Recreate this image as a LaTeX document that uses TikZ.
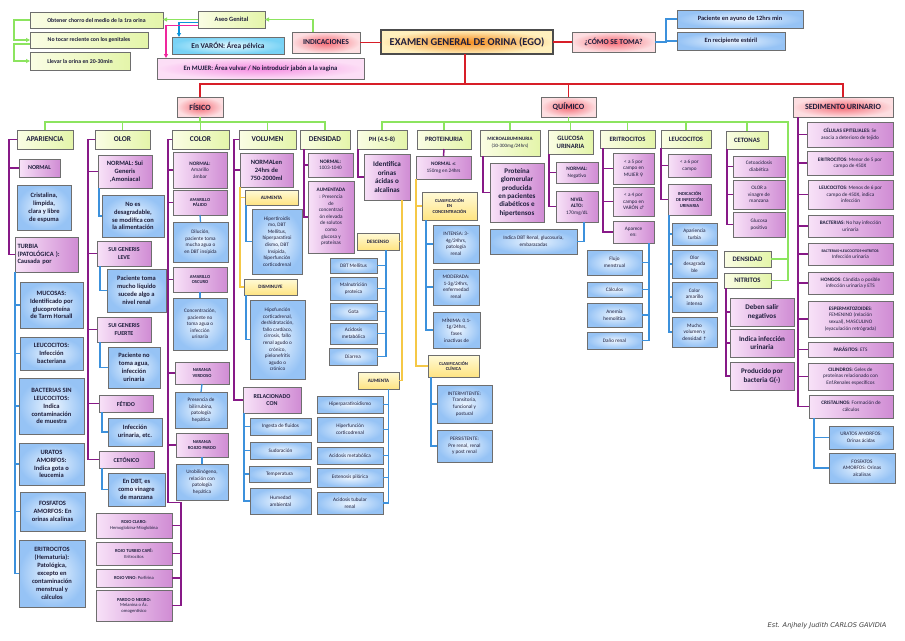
\documentclass[tikz,border=0pt]{standalone}
\usepackage{fontspec}
\setmainfont{Carlito}
\newfontfamily\symfont{DejaVu Sans}
\newfontfamily\sigfont{DejaVu Sans}
\usetikzlibrary{arrows.meta}
\definecolor{cred}{RGB}{215,30,40}
\definecolor{cgreen}{RGB}{140,228,95}
\definecolor{cpurp}{RGB}{135,25,135}
\definecolor{cblue}{RGB}{60,145,220}
\definecolor{cyel}{RGB}{245,200,70}
\definecolor{cbord}{RGB}{110,110,110}
\definecolor{ctext}{RGB}{30,30,60}
\definecolor{pL}{RGB}{248,226,248}
\definecolor{pR}{RGB}{208,140,212}
\definecolor{bI}{RGB}{236,245,255}
\definecolor{bO}{RGB}{150,195,245}
\definecolor{gL}{RGB}{250,253,228}
\definecolor{gR}{RGB}{228,245,170}
\definecolor{yT}{RGB}{255,250,215}
\definecolor{yB}{RGB}{255,228,130}
\definecolor{rI}{RGB}{245,105,115}
\definecolor{rO}{RGB}{253,222,225}
\definecolor{oI}{RGB}{245,140,30}
\definecolor{oO}{RGB}{255,240,190}
\definecolor{cI}{RGB}{230,250,255}
\definecolor{cO}{RGB}{120,210,245}
\definecolor{mI}{RGB}{245,140,225}
\definecolor{mO}{RGB}{252,222,246}
\newcommand\mybox[7]{%
  \pgfmathsetmacro\bxc{(#3+#5)/2}%
  \pgfmathsetmacro\byc{(#4+#6)/2}%
  \pgfmathsetmacro\bww{#5-#3}%
  \pgfmathsetmacro\bhh{#6-#4}%
  \node[#1, minimum width=\bww pt, minimum height=\bhh pt] (#2) at (\bxc,\byc) {#7};}
\tikzset{
 base/.style={draw=cbord, line width=0.9pt, align=center, inner sep=1pt, outer sep=0pt, text=ctext},
 pbox/.style={base, left color=pL, right color=pR, font=\fontsize{5.2}{6.6}\selectfont},
 bbox/.style={base, inner color=bI, outer color=bO, font=\fontsize{5.2}{6.6}\selectfont},
 gbox/.style={base, left color=gL, right color=gR, font=\fontsize{5.8}{7}\selectfont\bfseries},
 hbox/.style={base, left color=gL, right color=gR, font=\fontsize{7.4}{8.5}\selectfont\bfseries},
 ybox/.style={base, top color=yT, bottom color=yB, font=\fontsize{5}{6}\selectfont\bfseries},
 rbox/.style={base, inner color=rI, outer color=rO, font=\fontsize{8}{9}\selectfont\bfseries},
 tbox/.style={base, draw=black!70, line width=2pt, inner color=oI, outer color=oO, font=\fontsize{10.5}{12}\selectfont\bfseries},
 cbox/.style={base, inner color=cI, outer color=cO, font=\fontsize{7.4}{8.5}\selectfont\bfseries},
 mbox/.style={base, inner color=mI, outer color=mO, font=\fontsize{6.7}{8}\selectfont\bfseries},
 fa/.style={font=\fontsize{4.6}{5.6}\selectfont},
 fb/.style={font=\fontsize{5.2}{6.6}\selectfont},
 fc/.style={font=\fontsize{6}{7.2}\selectfont},
 fd/.style={font=\fontsize{6.5}{7.9}\selectfont\bfseries},
 fe/.style={font=\fontsize{7.1}{8.4}\selectfont\bfseries},
 redl/.style={draw=cred, line width=1.6pt},
 greenl/.style={draw=cgreen, line width=1.6pt},
 purpl/.style={draw=cpurp, line width=1.5pt},
 bluel/.style={draw=cblue, line width=1.3pt},
 yell/.style={draw=cyel, line width=1.3pt},
 cyanl/.style={draw=cyan!80!blue, line width=1.3pt},
 magl/.style={draw=magenta!85, line width=1.3pt},
 tip/.style={-{Triangle[length=4pt,width=4pt]}},
}
\begin{document}
\begin{tikzpicture}[x=1pt,y=-1pt]
\fill[white] (0,0) rectangle (905,640);
\useasboundingbox (0,0) rectangle (905,640);
% ---------- top ----------
\mybox{gbox}{obt}{30}{12}{163}{28}{Obtener chorro del medio de la 1ra orina}
\mybox{gbox}{notoc}{30}{32}{148}{48}{No tocar reciente con los genitales}
\mybox{gbox}{llev}{30}{52}{130}{70}{Llevar la orina en 20-30min}
\mybox{gbox,font=\fontsize{6.4}{7}\selectfont\bfseries}{aseo}{198}{11}{265}{28}{Aseo Genital}
\mybox{cbox}{varon}{172}{37}{284}{54}{En VARÓN: Área pélvica}
\mybox{mbox}{mujer}{157}{58}{364}{79}{En MUJER: Área vulvar / No introducir jabón a la vagina}
\mybox{rbox,font=\fontsize{7.6}{9}\selectfont\bfseries}{indic}{292}{32}{360}{53}{INDICACIONES}
\mybox{tbox}{ego}{381}{30}{553}{54}{EXAMEN GENERAL DE ORINA (EGO)}
\mybox{rbox,font=\fontsize{7.6}{9}\selectfont\bfseries}{como}{572}{32}{655}{52}{¿CÓMO SE TOMA?}
\mybox{bbox,font=\fontsize{6.4}{7.5}\selectfont\bfseries}{ayuno}{677}{10}{803}{28}{Paciente en ayuno de 12hrs min}
\mybox{bbox,font=\fontsize{6.4}{7.5}\selectfont\bfseries}{recip}{677}{32}{785}{50}{En recipiente estéril}
\draw[redl] (indic.east) -- (indic.east -| ego.west);
\draw[redl] (ego.east) -- (ego.east -| como.west);
\draw[bluel] (como.east) -- ++(11,0) coordinate (cf) |- (ayuno.west);
\draw[bluel] (cf) |- (recip.west);
\draw[greenl,tip] ([xshift=-13pt]indic.north) |- (aseo.east);
\draw[greenl,tip] (aseo.west) -- (aseo.west -| obt.east);
\draw[cyanl,tip] ([yshift=-3pt]aseo.west) -| ([xshift=7pt]varon.north west);
\draw[magl,tip] ([yshift=-6pt]aseo.west) -| ([xshift=9pt]mujer.north west);
\draw[greenl,tip] (obt.west) -- ++(-16,0) |- (notoc.west);
\draw[greenl,tip] ([yshift=-4pt]notoc.west) -- ++(-16,0) |- (llev.west);
% ---------- main ----------
\mybox{rbox}{fis}{177}{97}{223}{117}{FÍSICO}
\mybox{rbox}{quim}{541}{97}{596}{117}{QUÍMICO}
\mybox{rbox}{sed}{793}{97}{893}{117}{SEDIMENTO URINARIO}
\draw[redl] ([xshift=-2pt]ego.south) -- ++(0,30) coordinate (b0);
\draw[redl] (fis.north) |- (b0) -| (sed.north);
\draw[redl] (quim.north) -- (quim.north |- b0);
% headers
\mybox{hbox}{apar}{17}{130}{73}{149}{APARIENCIA}
\mybox{hbox}{olor}{95}{130}{150}{149}{OLOR}
\mybox{hbox}{color}{172}{130}{229}{149}{COLOR}
\mybox{hbox}{vol}{239}{130}{296}{149}{VOLUMEN}
\mybox{hbox}{dens}{300}{130}{350}{149}{DENSIDAD}
\mybox{hbox,font=\fontsize{6.4}{7}\selectfont\bfseries}{ph}{357}{130}{407}{149}{PH (4.5-8)}
\mybox{hbox,font=\fontsize{6.6}{7}\selectfont\bfseries}{prot}{417}{130}{471}{149}{PROTEINURIA}
\mybox{hbox,font=\fontsize{5}{6.5}\selectfont}{micro}{480}{130}{540}{156}{\textbf{MICROALBUMINURIA}\\(30-300mg/24hrs)}
\mybox{hbox,font=\fontsize{6.6}{7.8}\selectfont\bfseries}{gluc}{548}{130}{593}{154}{GLUCOSA\\URINARIA}
\mybox{hbox,font=\fontsize{6.6}{7.5}\selectfont\bfseries}{erit}{600}{130}{655}{148}{ERITROCITOS}
\mybox{hbox,font=\fontsize{6.6}{7.5}\selectfont\bfseries}{leuc}{661}{130}{711}{148}{LEUCOCITOS}
\mybox{hbox,font=\fontsize{6.6}{7.5}\selectfont\bfseries}{ceto}{726}{131}{768}{149}{CETONAS}
\mybox{hbox,font=\fontsize{6.8}{7.5}\selectfont\bfseries}{densq}{724}{251}{771}{267}{DENSIDAD}
\mybox{hbox,font=\fontsize{6.8}{7.5}\selectfont\bfseries}{nitr}{724}{273}{771}{288}{NITRITOS}
\draw[greenl] (fis.south) -- ++(0,5) coordinate (gf);
\draw[greenl] (apar.north) |- (gf) -| (dens.north);
\foreach \n in {olor,color,vol} \draw[greenl] (\n.north) -- (\n.north |- gf);
\draw[greenl] (quim.south) -- ++(0,5) coordinate (gq);
\coordinate (ge) at ([xshift=17pt]nitr.east);
\draw[greenl] (ph.north) |- (ge |- gq) -- (ge) -- (nitr.east);
\draw[greenl] (densq.east -| ge) -- (densq.east);
\foreach \n in {prot,micro,gluc,erit,leuc,ceto} \draw[greenl] (\n.north) -- (\n.north |- gq);
% ---------- APARIENCIA ----------
\mybox{pbox,fc}{aNorm}{19}{159}{60}{177}{\textbf{NORMAL}}
\mybox{bbox,fd}{aCrist}{17}{185}{71}{230}{Cristalina,\\límpida,\\clara y libre\\de espuma}
\mybox{pbox,fd,align=left,text width=58pt}{aTurb}{15}{237}{78}{272}{TURBIA\\(PATOLÓGICA ):\\Causada por}
\mybox{bbox,fd}{aMuc}{20}{282}{83}{328}{MUCOSAS:\\Identificado por\\glucoproteína\\de Tarm Horsall}
\mybox{bbox,fd}{aLeu}{20}{337}{83}{370}{LEUCOCITOS:\\Infección\\bacteriana}
\mybox{bbox,fd}{aBac}{19}{378}{84}{434}{BACTERIAS SIN\\LEUCOCITOS:\\Indica\\contaminación\\de muestra}
\mybox{bbox,fd}{aUra}{19}{443}{84}{485}{URATOS\\AMORFOS:\\Indica gota o\\leucemia}
\mybox{bbox,fd}{aFos}{20}{492}{85}{531}{FOSFATOS\\AMORFOS: En\\orinas alcalinas}
\mybox{bbox,fd}{aEri}{19}{540}{85}{607}{ERITROCITOS\\(Hematuria):\\Patológica,\\excepto en\\contaminación\\menstrual y\\cálculos}
\draw[purpl] (apar.west) -- ++(-8,0) coordinate (pa) |- (aTurb.west);
\draw[purpl] (pa) |- (aNorm.west);
\foreach \n in {aMuc,aLeu,aBac,aUra,aFos,aEri} \draw[bluel] (aTurb.south west) |- (\n.west);
% ---------- OLOR ----------
\mybox{pbox,fd}{oNorm}{98}{155}{152}{188}{NORMAL: Sui\\Generis\\,Amoniacal}
\mybox{bbox,fd}{oNoes}{102}{195}{164}{237}{No es\\desagradable,\\se modifica con\\la alimentación}
\mybox{pbox,fc}{oLeve}{97}{241}{151}{266}{\textbf{SUI GENERIS}\\\textbf{LEVE}}
\mybox{bbox,fd}{oLeveB}{107}{269}{166}{312}{Paciente toma\\mucho líquido\\sucede algo a\\nivel renal}
\mybox{pbox,fc}{oFuer}{97}{317}{151}{342}{\textbf{SUI GENERIS}\\\textbf{FUERTE}}
\mybox{bbox,fd}{oFuerB}{108}{347}{160}{388}{Paciente no\\toma agua,\\infección\\urinaria}
\mybox{pbox,fc}{oFet}{99}{395}{153}{412}{\textbf{FÉTIDO}}
\mybox{bbox,fd}{oFetB}{108}{418}{162}{446}{Infección\\urinaria, etc.}
\mybox{pbox,fc}{oCet}{99}{451}{154}{468}{\textbf{CETÓNICO}}
\mybox{bbox,fd}{oCetB}{108}{473}{165}{506}{En DBT, es\\como vinagre\\de manzana}
\draw[purpl] (olor.west) -- ++(-7,0) coordinate (po) |- (oCet.west);
\foreach \n in {oNorm,oLeve,oFuer,oFet} \draw[purpl] (po) |- (\n.west);
\draw[bluel] ([xshift=1pt]oNorm.south west) |- (oNoes.west);
\foreach \a/\b in {oLeve/oLeveB,oFuer/oFuerB,oFet/oFetB,oCet/oCetB} \draw[bluel] ([xshift=3pt]\a.south west) |- (\b.west);
% ---------- COLOR ----------
\mybox{pbox,fb}{cNorm}{173}{152}{227}{188}{\textbf{NORMAL:}\\Amarillo\\ámbar}
\mybox{pbox,fa}{cPal}{173}{190}{227}{215}{\textbf{AMARILLO}\\\textbf{PÁLIDO}}
\mybox{bbox,fb}{cPalB}{173}{222}{228}{262}{Dilución,\\paciente toma\\mucha agua o\\en DBT insípida}
\mybox{pbox,fa}{cOsc}{173}{267}{227}{292}{\textbf{AMARILLO}\\\textbf{OSCURO}}
\mybox{bbox,fb}{cOscB}{173}{298}{227}{350}{Concentración,\\paciente no\\toma agua o\\infección\\urinaria}
\mybox{pbox,fa}{cVer}{175}{362}{229}{384}{\textbf{NARANJA}\\\textbf{VERDOSO}}
\mybox{bbox,fb}{cVerB}{175}{392}{227}{428}{Presencia de\\bilirrubina,\\patología\\hepática}
\mybox{pbox,fa}{cRoj}{176}{433}{228}{457}{\textbf{NARANJA}\\\textbf{ROJIZO PARDO}}
\mybox{bbox,fb}{cRojB}{176}{464}{228}{500}{Urobilinógeno,\\relación con\\patología\\hepática}
\mybox{pbox,fa}{cRC}{96}{513}{172}{538}{\textbf{ROJO CLARO:}\\Hemoglobina-Mioglobina}
\mybox{pbox,fa}{cRT}{96}{542}{172}{565}{\textbf{ROJO TURBIO CAFÉ:}\\Eritrocitos}
\mybox{pbox,fa}{cRV}{96}{569}{172}{587}{\textbf{ROJO VINO}: Porfirina}
\mybox{pbox,fa}{cPN}{96}{590}{172}{621}{\textbf{PARDO O NEGRO:}\\Melanina o Ác.\\omogentísico}
\draw[purpl] (color.west) -- ++(-4,0) coordinate (pc) -- ++(0,363) coordinate (pc2) -- ++(13,0) coordinate (pc3) |- (cPN.east);
\foreach \n in {cNorm,cPal,cOsc,cVer,cRoj} \draw[purpl] (pc) |- (\n.west);
\foreach \n in {cRC,cRT,cRV} \draw[purpl] (pc3) |- (\n.east);
\foreach \a/\b in {cPal/cPalB,cOsc/cOscB,cVer/cVerB,cRoj/cRojB} \draw[bluel] (\a.south) -- (\b.north);
% ---------- VOLUMEN ----------
\mybox{pbox,fd}{vNorm}{240}{153}{293}{187}{NORMALen\\24hrs de\\750-2000ml}
\mybox{ybox}{vAum}{245}{190}{298}{205}{AUMENTA}
\mybox{bbox,fb}{vAumB}{252}{209}{302}{274}{Hipertiroidis\\mo, DBT\\Mellitus,\\hiperparatiroi\\dismo, DBT\\Insípida,\\hiperfunción\\corticodrenal}
\mybox{ybox}{vDis}{244}{279}{297}{295}{DISMINUYE}
\mybox{bbox,fb}{vDisB}{250}{300}{305}{379}{Hipofunción\\corticadrenal,\\deshidratación,\\fallo cardíaco,\\cirrosis, fallo\\renal agudo o\\crónico,\\pielonefritis\\agudo o\\crónico}
\mybox{pbox,fc}{vRel}{243}{387}{301}{413}{\textbf{RELACIONADO}\\\textbf{CON}}
\mybox{bbox,fb}{vR1}{250}{418}{311}{435}{Ingesta de fluidos}
\mybox{bbox,fb}{vR2}{250}{442}{311}{459}{Sudoración}
\mybox{bbox,fb}{vR3}{249}{466}{310}{482}{Temperatura}
\mybox{bbox,fb}{vR4}{250}{488}{311}{514}{Humedad\\ambiental}
\draw[purpl] (vol.west) -- ++(-5,0) coordinate (pv) |- (vRel.west);
\draw[purpl] (pv) |- (vNorm.west);
\draw[yell] (vNorm.south west) |- (vDis.west);
\draw[yell] (vNorm.south west) |- (vAum.west);
\draw[bluel] ([xshift=1pt]vAum.south west) |- (vAumB.west);
\draw[bluel] ([xshift=2pt]vDis.south west) |- (vDisB.west);
\foreach \n in {vR1,vR2,vR3,vR4} \draw[bluel] ([xshift=1pt]vRel.south west) |- (\n.west);
% ---------- DENSIDAD ----------
\mybox{pbox,fb}{dNorm}{308}{153}{353}{177}{\textbf{NORMAL:}\\1003-1040}
\mybox{pbox,fb}{dAum}{308}{181}{354}{253}{\textbf{AUMENTADA}\\: Presencia\\de\\concentraci\\ón elevada\\de solutos\\como\\glucosa y\\proteínas}
\draw[purpl] ([xshift=4pt]dens.south west) |- (dAum.west);
\draw[purpl] ([xshift=4pt]dens.south west) |- (dNorm.west);
% ---------- PH ----------
\mybox{pbox,fe}{pId}{364}{154}{410}{200}{Identifica\\orinas\\ácidas o\\alcalinas}
\draw[purpl] ([xshift=1pt]ph.south west) |- (pId.west);
\mybox{ybox}{pDes}{357}{233}{399}{250}{DESCENSO}
\mybox{ybox}{pAum}{358}{372}{399}{389}{AUMENTA}
\draw[yell] ([xshift=-8pt]pId.south east) |- (pAum.east);
\draw[yell] ([xshift=-8pt]pId.south east) |- (pDes.east);
\mybox{bbox,fb}{pD1}{330}{258}{377}{273}{DBT Mellitus}
\mybox{bbox,fb}{pD2}{330}{277}{377}{300}{Malnutrición\\proteica}
\mybox{bbox,fb}{pD3}{330}{303}{377}{320}{Gota}
\mybox{bbox,fb}{pD4}{330}{323}{377}{344}{Acidosis\\metabólica}
\mybox{bbox,fb}{pD5}{329}{348}{377}{365}{Diarrea}
\foreach \n in {pD1,pD2,pD3,pD4,pD5} \draw[bluel] ([xshift=8pt]pDes.south) |- (\n.east);
\mybox{bbox,fb}{pA1}{317}{396}{383}{413}{Hiperparatiroidismo}
\mybox{bbox,fb}{pA2}{317}{417}{383}{442}{Hiperfunción\\corticodrenal}
\mybox{bbox,fb}{pA3}{317}{447}{383}{464}{Acidosis metabólica}
\mybox{bbox,fb}{pA4}{317}{468}{383}{487}{Estenosis pilórica}
\mybox{bbox,fb}{pA5}{317}{492}{383}{514}{Acidosis tubular\\renal}
\foreach \n in {pA1,pA2,pA3,pA4,pA5} \draw[bluel] ([xshift=10pt]pAum.south) |- (\n.east);
% ---------- PROTEINURIA ----------
\mybox{pbox,fb}{prN}{416}{156}{471}{179}{\textbf{NORMAL} {\symfont\fontsize{4.6}{5}\selectfont ≤}\\150mg en 24hrs}
\draw[purpl] (prot.south) -- (prN.north);
\mybox{ybox,fa}{prC}{422}{192}{477}{220}{\textbf{CLASIFICACIÓN}\\\textbf{EN}\\\textbf{CONCENTRACIÓN}}
\mybox{ybox,fa}{prCl}{428}{355}{479}{377}{\textbf{CLASIFICACIÓN}\\\textbf{CLÍNICA}}
\draw[yell] (prN.south west) |- (prCl.west);
\draw[yell] (prN.south west) |- (prC.west);
\mybox{bbox,fb}{prI}{433}{225}{479}{263}{INTENSA: 3-\\4g/24hrs,\\patología\\renal}
\mybox{bbox,fb}{prM}{433}{269}{479}{305}{MODERADA:\\1-3g/24hrs,\\enfermedad\\renal}
\mybox{bbox,fb}{prMi}{433}{312}{480}{348}{MÍNIMA: 0.1-\\1g/24hrs,\\fases\\inactivas de}
\foreach \n in {prI,prM,prMi} \draw[bluel] ([xshift=4pt]prC.south west) |- (\n.west);
\mybox{bbox,fb}{prInt}{437}{385}{492}{423}{INTERMITENTE:\\Transitoria,\\funcional y\\postural}
\mybox{bbox,fb}{prPer}{437}{430}{492}{462}{PERSISTENTE:\\Pre renal, renal\\y post renal}
\foreach \n in {prInt,prPer} \draw[bluel] ([xshift=3pt]prCl.south west) |- (\n.west);
% ---------- MICRO / GLUCOSA ----------
\mybox{pbox,fe}{mP}{490}{163}{544}{222}{Proteína\\glomerular\\producida\\en pacientes\\diabéticos e\\hipertensos}
\draw[purpl] ([xshift=3pt]micro.south west) |- (mP.west);
\mybox{bbox,fb}{mI}{490}{229}{577}{254}{Indica DBT Renal, glucosuria,\\embarazadas}
\mybox{pbox,fb}{gN}{556}{162}{598}{183}{\textbf{NORMAL:}\\Negativo}
\mybox{pbox,fb}{gA}{556}{191}{598}{222}{\textbf{NIVEL}\\\textbf{ALTO:}\\170mg/dL}
\draw[purpl] ([xshift=1pt]gluc.south west) |- (gA.west);
\draw[purpl] ([xshift=1pt]gluc.south west) |- (gN.west);
\draw[bluel] ([xshift=7pt]gA.south) |- (mI.east);
% ---------- ERITROCITOS ----------
\mybox{pbox,fb}{eM}{613}{153}{654}{184}{< a 5 por\\campo en\\MUJER {\symfont\fontsize{4.6}{5}\selectfont ♀}}
\mybox{pbox,fb}{eV}{613}{187}{654}{216}{< a 4 por\\campo en\\VARÓN {\symfont\fontsize{4.6}{5}\selectfont ♂}}
\mybox{pbox,fb}{eA}{613}{221}{654}{243}{Aparece\\en:}
\foreach \n in {eM,eV,eA} \draw[purpl] ([xshift=3pt]erit.south west) |- (\n.west);
\mybox{bbox,fb}{eF}{587}{250}{642}{275}{Flujo\\menstrual}
\mybox{bbox,fb}{eC}{587}{282}{642}{297}{Cálculos}
\mybox{bbox,fb}{eAn}{587}{303}{642}{327}{Anemia\\hemolítica}
\mybox{bbox,fb}{eD}{587}{332}{642}{349}{Daño renal}
\foreach \n in {eF,eC,eAn,eD} \draw[bluel] ([xshift=-5pt]eA.south east) |- (\n.east);
% ---------- LEUCOCITOS ----------
\mybox{pbox,fb}{lC}{668}{154}{711}{177}{< a 6 por\\campo}
\mybox{pbox,fa}{lI}{668}{184}{711}{215}{\textbf{INDICACIÓN}\\\textbf{DE INFECCIÓN}\\\textbf{URINARIA}}
\foreach \n in {lC,lI} \draw[purpl] (leuc.south west) |- (\n.west);
\mybox{bbox,fb}{lA}{672}{223}{717}{245}{Apariencia\\turbia}
\mybox{bbox,fb}{lO}{672}{250}{717}{278}{Olor\\desagrada\\ble}
\mybox{bbox,fb}{lCo}{672}{282}{717}{312}{Color\\amarillo\\intenso}
\mybox{bbox,fb}{lM}{672}{317}{717}{347}{Mucho\\volumen y\\densidad {\symfont\fontsize{4.6}{5}\selectfont ↑}}
\foreach \n in {lA,lO,lCo,lM} \draw[bluel] ([xshift=1pt]lI.south west) |- (\n.west);
% ---------- CETONAS / NITRITOS ----------
\mybox{pbox,fb}{kC}{733}{156}{785}{177}{Cetoacidosis\\diabética}
\mybox{pbox,fb}{kO}{733}{180}{785}{209}{OLOR a\\vinagre de\\manzana}
\mybox{pbox,fb}{kG}{733}{212}{785}{237}{Glucosa\\positivo}
\foreach \n in {kC,kO,kG} \draw[purpl] ([xshift=1pt]ceto.south west) |- (\n.west);
\mybox{pbox,fe}{nD}{730}{298}{794}{326}{Deben salir\\negativos}
\mybox{pbox,fe}{nI}{730}{329}{794}{357}{Indica infección\\urinaria}
\mybox{pbox,fe}{nP}{730}{362}{794}{390}{Producido por\\bacteria G(-)}
\foreach \n in {nD,nI,nP} \draw[purpl] ([xshift=2pt]nitr.south west) |- (\n.west);
% ---------- SEDIMENTO ----------
\mybox{pbox,fb}{s1}{807}{122}{893}{147}{\textbf{CÉLULAS EPITELIALES}: Se\\asocia a deterioro de tejido}
\mybox{pbox,fb}{s2}{807}{151}{893}{175}{\textbf{ERITROCITOS}: Menor de 5 por\\campo de 450X}
\mybox{pbox,fb}{s3}{808}{180}{893}{209}{\textbf{LEUCOCITOS}: Menos de 6 por\\campo de 450X, indica\\infección}
\mybox{pbox,fb}{s4}{808}{215}{893}{237}{\textbf{BACTERIAS}: No hay infección\\urinaria}
\mybox{pbox,font=\fontsize{3.9}{5.6}\selectfont}{s5}{808}{243}{893}{265}{\textbf{BACTERIAS+LEUCOCITOS+NITRITOS}:\\{\fontsize{5.2}{6.6}\selectfont Infección urinaria}}
\mybox{pbox,fb}{s6}{808}{272}{893}{294}{\textbf{HONGOS}: Cándida o posible\\infección urinaria y ETS}
\mybox{pbox,fb}{s7}{808}{301}{893}{337}{\textbf{ESPERMATOZOIDES}:\\FEMENINO (relación\\sexual), MASCULINO\\(eyaculación retrógrada)}
\mybox{pbox,fb}{s8}{808}{342}{893}{357}{\textbf{PARÁSITOS}: ETS}
\mybox{pbox,fb}{s9}{808}{363}{893}{390}{\textbf{CILINDROS}: Geles de\\proteínas relacionado con\\Enf.Renales específicos}
\mybox{pbox,fb}{s10}{809}{395}{893}{418}{\textbf{CRISTALINOS}: Formación de\\cálculos}
\foreach \n in {s1,s2,s3,s4,s5,s6,s7,s8,s9,s10} \draw[purpl] ([xshift=5pt]sed.south west) |- (\n.west);
\mybox{bbox,fb}{s11}{829}{426}{893}{449}{URATOS AMORFOS:\\Orinas ácidas}
\mybox{bbox,fb}{s12}{829}{453}{895}{483}{FOSFATOS\\AMORFOS: Orinas\\alcalinas}
\foreach \n in {s11,s12} \draw[bluel] ([xshift=5pt]s10.south west) |- (\n.west);
% signature
\node[font=\sigfont\itshape\fontsize{6.6}{8}\selectfont, text=black!75] (sig) at (827,626) {Est. Anjhely Judith CARLOS GAVIDIA};
\end{tikzpicture}
\end{document}
